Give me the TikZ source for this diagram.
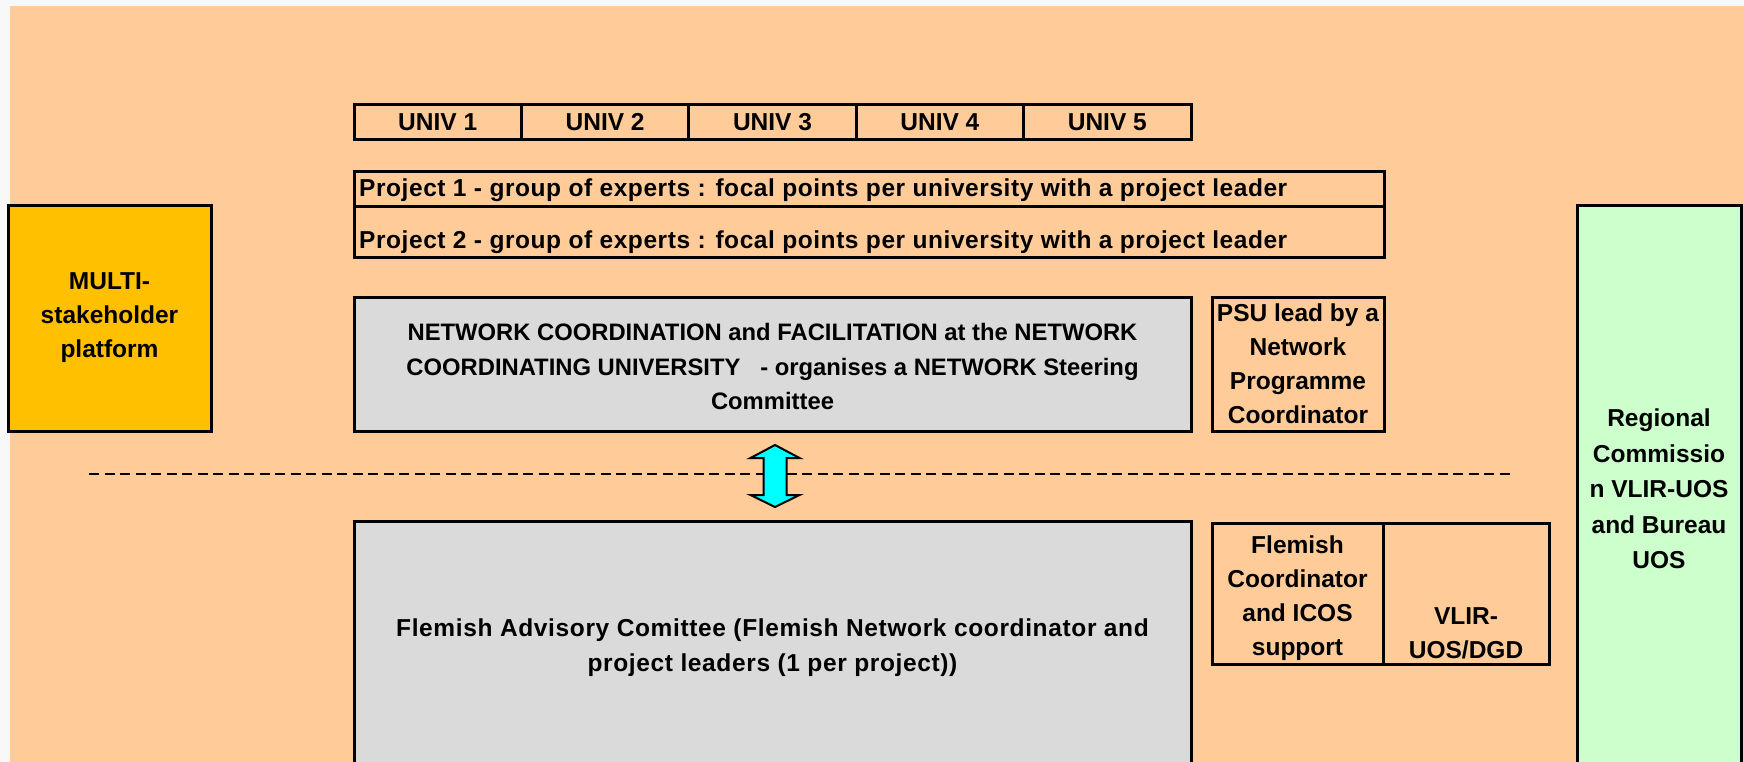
\documentclass[tikz,border=0pt]{standalone}
\usepackage{fontspec}
\setmainfont{Liberation Sans}
\definecolor{outerbg}{RGB}{248,248,248}
\definecolor{peach}{RGB}{255,204,153}
\definecolor{boxgray}{RGB}{218,218,218}
\definecolor{multiorange}{RGB}{255,192,0}
\definecolor{regiongreen}{RGB}{204,255,204}
\definecolor{arrowcyan}{RGB}{0,255,255}
\tikzset{
  box/.style={draw=black, line width=3pt, rectangle, inner sep=0pt, align=center,
              font=\fontsize{24.5}{34}\selectfont\bfseries},
  txt/.style={inner sep=0pt, align=center, font=\fontsize{24.5}{34}\selectfont\bfseries},
  widetxt/.style={txt, font=\fontsize{24.5}{34.5}\selectfont\bfseries\addfontfeatures{LetterSpace=2.3}},
  narrowtxt/.style={txt, font=\fontsize{23.8}{34.5}\selectfont\bfseries},
  divider/.style={draw=black, line width=2pt, dash pattern=on 10pt off 5.5pt},
  updown/.style={draw=black, line width=2pt, fill=arrowcyan, line join=miter}
}
\begin{document}
\begin{tikzpicture}[x=1pt, y=-1pt]
\useasboundingbox (0,0) rectangle (1744,762);
\clip (0,0) rectangle (1744,762);
\fill[outerbg] (0,0) rectangle (1744,762);
\fill[peach] (10,6) rectangle (1744,762);

% University row
\foreach \i/\n in {0/1,1/2,2/3,3/4,4/5}{
  \node[box, fill=peach, minimum width=167.4pt, minimum height=35pt]
    (univ\n) at ({354+83.7+167.4*\i},122.5) {UNIV \n};
}

% Projects
\node[box, fill=peach, minimum width=1030pt, minimum height=34pt] (proj1) at (869,189) {};
\node[box, fill=peach, minimum width=1030pt, minimum height=51pt] (proj2) at (869,231.5) {};
\node[widetxt, anchor=west] (proj1t) at (359,190.5) {Project 1 - group of experts : focal points per university with a project leader};
\node[widetxt, anchor=west] (proj2t) at (359,242.5) {Project 2 - group of experts : focal points per university with a project leader};

% Multi-stakeholder platform
\node[box, fill=multiorange, minimum width=203pt, minimum height=226pt] (multi) at (109.5,318)
  {MULTI-\\stakeholder\\platform};

% Network coordination
\node[box, fill=boxgray, minimum width=837pt, minimum height=134pt] (net) at (772.5,364) {};
\node[narrowtxt] (nett) at (772.5,366.5)
  {NETWORK COORDINATION and FACILITATION at the NETWORK\\COORDINATING UNIVERSITY\ \ \ - organises a NETWORK Steering\\Committee};

\node[box, fill=peach, minimum width=172pt, minimum height=134pt] (psu) at (1298,364)
  {PSU lead by a\\Network\\Programme\\Coordinator};

% Regional commission
\node[box, fill=regiongreen, minimum width=164pt, minimum height=562pt] (reg) at (1659,486)
  {};
\node[txt, font=\fontsize{24.5}{35.6}\selectfont\bfseries] (regt) at (1659,489) {Regional\\Commissio\\n VLIR-UOS\\and Bureau\\UOS};

% Divider and double arrow
\coordinate (dl) at (89,474);
\coordinate (dr) at (1510,474);
\draw[divider] (dl) -- (dr);
\draw[updown] (775,445) -- (799.5,458) -- (786.5,458) -- (786.5,495) -- (799.5,495)
  -- (775,507) -- (750.5,495) -- (763.5,495) -- (763.5,458) -- (750.5,458) -- cycle;

% Flemish side
\node[box, fill=boxgray, minimum width=837pt, minimum height=249pt] (fadv) at (772.5,645.5) {};
\node[widetxt, font=\fontsize{24.5}{35}\selectfont\bfseries\addfontfeatures{LetterSpace=2.6}] (fadvt) at (772.5,647.5)
  {Flemish Advisory Comittee (Flemish Network coordinator and\\project leaders (1 per project))};

\node[box, fill=peach, minimum width=171pt, minimum height=141pt] (fco) at (1297.5,593.5) {};
\node[txt] (fcot) at (1297.5,598) {Flemish\\Coordinator\\and ICOS\\support};
\node[box, fill=peach, minimum width=166pt, minimum height=141pt] (vlir) at (1466,593.5) {};
\node[txt] (vlirt) at (1466,633.5) {VLIR-\\UOS/DGD};
\end{tikzpicture}
\end{document}
